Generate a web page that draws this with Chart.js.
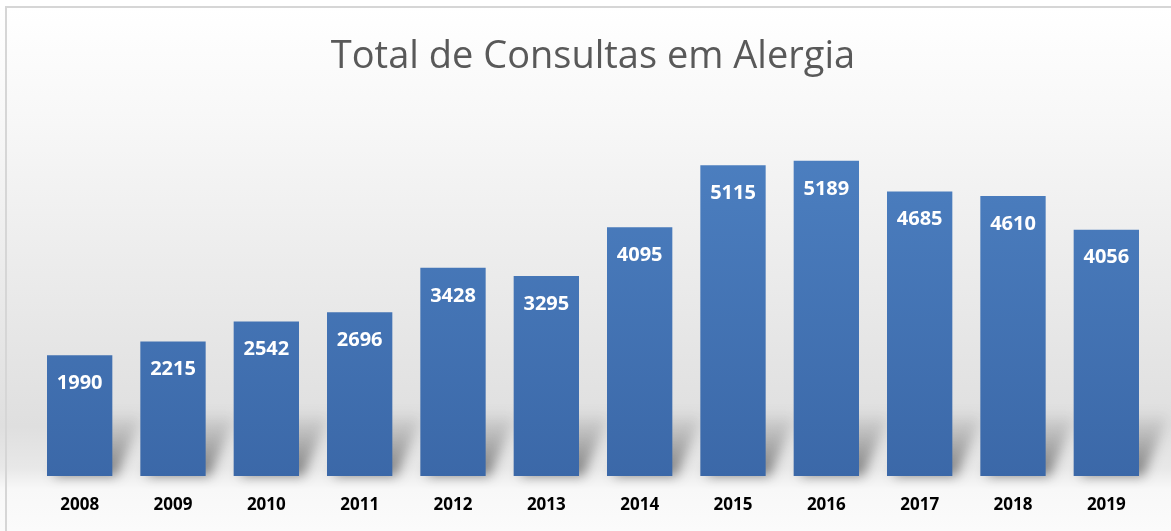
<!DOCTYPE html>
<html>
<head>
<meta charset="utf-8">
<script src="https://cdn.jsdelivr.net/npm/chart.js@4/dist/chart.umd.min.js"></script>
<style>
	html, body { margin: 0; padding: 0; background: #ffffff; }
	#wrap { position: absolute; left: 0; top: 0; width: 1171px; height: 531px; }
	#frame { position: absolute; left: 5px; top: 6px; width: 1180px; height: 540px; border: 2px solid #d6d6d6; box-sizing: border-box; pointer-events: none; }
</style>
</head>
<body>
<div id="wrap">
	<canvas id="barChart" width="1171" height="531"></canvas>
	<div id="frame"></div>
</div>
<script>
const years = ["2008", "2009", "2010", "2011", "2012", "2013", "2014", "2015", "2016", "2017", "2018", "2019"];
const consultas = [1990, 2215, 2542, 2696, 3428, 3295, 4095, 5115, 5189, 4685, 4610, 4056];
const chartTitle = "Total de Consultas em Alergia";

// soft grey backdrop like the original office chart
const backdrop = {
	id: "backdrop",
	beforeDraw(chart) {
		const ctx = chart.ctx;
		const h = chart.height;
		const g = ctx.createLinearGradient(0, 7, 0, h);
		g.addColorStop(0, "#ffffff");
		g.addColorStop(0.2, "#f8f8f8");
		g.addColorStop(0.8, "#dfdfdf");
		g.addColorStop(0.88, "#e8e8e8");
		g.addColorStop(0.92, "#f8f8f8");
		g.addColorStop(1, "#fbfbfb");
		ctx.save();
		ctx.fillStyle = g;
		ctx.fillRect(0, 0, chart.width, h);
		ctx.restore();
	},
	beforeDatasetsDraw(chart) {
		const ctx = chart.ctx;
		const meta = chart.getDatasetMeta(0);
		ctx.save();
		ctx.filter = "blur(6px)";
		meta.data.forEach((bar) => {
			const p = bar.getProps(["x", "base", "width"], true);
			const l = p.x - p.width / 2;
			const r = p.x + p.width / 2;
			const g = ctx.createLinearGradient(0, p.base, 0, p.base - 65);
			g.addColorStop(0, "rgba(50,50,50,0.6)");
			g.addColorStop(1, "rgba(50,50,50,0)");
			ctx.fillStyle = g;
			ctx.beginPath();
			ctx.moveTo(l + 6, p.base);
			ctx.lineTo(r + 4, p.base);
			ctx.lineTo(r + 32, p.base - 65);
			ctx.lineTo(l + 32, p.base - 65);
			ctx.closePath();
			ctx.fill();
		});
		ctx.restore();
	},
};

const valueLabels = {
	id: "valueLabels",
	afterDatasetsDraw(chart) {
		const ctx = chart.ctx;
		const meta = chart.getDatasetMeta(0);
		ctx.save();
		ctx.font = "bold 20px 'Open Sans'";
		ctx.fillStyle = "#ffffff";
		ctx.textAlign = "center";
		ctx.textBaseline = "middle";
		meta.data.forEach((bar, i) => {
			ctx.fillText(String(consultas[i]), bar.x, bar.y + 28);
		});
		ctx.restore();
	},
};

const ctx = document.getElementById("barChart");
const area = ctx.getContext("2d");
const barFill = area.createLinearGradient(0, 150, 0, 476);
barFill.addColorStop(0, "#4c7fc0");
barFill.addColorStop(1, "#3b68a8");

const chartData = {
	labels: years,
	datasets: [
		{
			label: "Consultas",
			data: consultas,
			backgroundColor: barFill,
			borderWidth: 0,
			barPercentage: 0.7,
			categoryPercentage: 1,
		},
	],
};

const config = {
	type: "bar",
	data: chartData,
	options: {
		responsive: false,
		animation: false,
		layout: { padding: { left: 33, right: 18, top: 0, bottom: 10 } },
		plugins: {
			legend: { display: false },
			tooltip: { enabled: false },
			title: {
				display: true,
				text: chartTitle,
				color: "#595959",
				font: { family: "'Open Sans'", size: 38, weight: "normal" },
				padding: { top: 34, bottom: 32 },
			},
		},
		scales: {
			x: {
				grid: { display: false },
				border: { display: false },
				ticks: {
					color: "#000000",
					font: { family: "'Open Sans'", size: 17, weight: "bold" },
					padding: 11,
				},
				afterFit(scale) { scale.height = 45; },
			},
			y: {
				display: false,
				min: 0,
				max: 6000,
			},
		},
	},
	plugins: [backdrop, valueLabels],
};

new Chart(ctx, config);
</script>
</body>
</html>
